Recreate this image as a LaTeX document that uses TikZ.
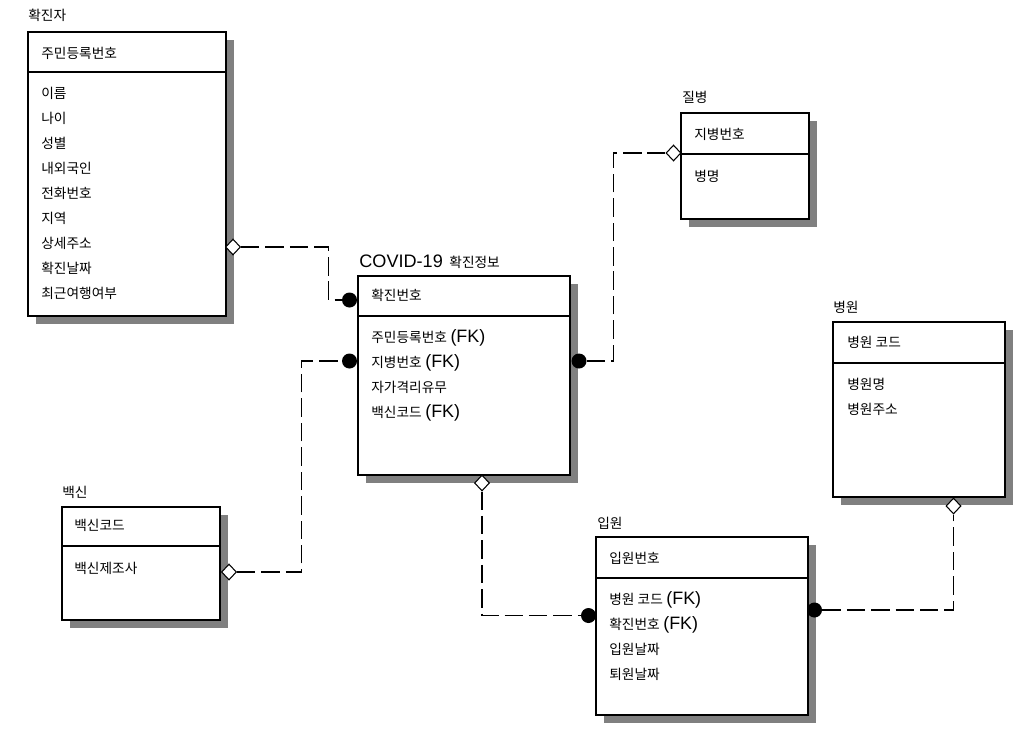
\documentclass[tikz,border=0pt]{standalone}
\usepackage{fontspec}
\newfontfamily\kofont{Noto Sans CJK KR}
\newfontfamily\arialfont{Liberation Sans}
\usepackage{tikz}
\usetikzlibrary{calc,fit,shapes.geometric}
\newcommand{\fkmark}{\hspace{2pt}{\arialfont\fontsize{10.2}{12}\selectfont(FK)}}
\tikzset{
  er diagram/.style={x=0.02cm, y=-0.02cm,
    font=\kofont\fontsize{7.8}{9}\selectfont},
  er box/.style={draw=black, fill=white, line width=0.6pt, inner sep=0pt},
  er shadow/.style={fill=black!50},
  er line/.style={draw=black, line width=0.6pt},
  er text/.style={anchor=base west, inner sep=0pt},
  er link/.style={draw=black, line width=0.6pt, dash pattern=on 10.5pt off 3.4pt},
  er dot/.style={circle, fill=black, inner sep=0pt, minimum size=0.3cm},
  er diamond/.style={diamond, draw=black, fill=white, line width=0.6pt,
    inner sep=0pt, minimum width=0.3cm, minimum height=0.32cm}
}
\begin{document}
\begin{tikzpicture}[er diagram]
\useasboundingbox (0,0) rectangle (1034,738);
% entity boxes with shadow and key divider
\foreach \name/\xa/\ya/\xb/\yb/\dv in {patient/28/32/226/316/72,
    info/358/276/570/475/316, disease/681/113/809/219/154,
    hospital/833/322/1005/497/363, admission/596/537/808/715/578,
    vaccine/62/507/220/620/546}{
  \fill[er shadow] (\xa+8,\ya+8) rectangle (\xb+8,\yb+8);
  \node[er box, fit={(\xa,\ya) (\xb,\yb)}] (\name) {};
  \draw[er line] (\xa,\dv) -- (\xb,\dv);
}
% 확진자
\node[er text] (patient title) at (28,20) {확진자};
\node[er text] (patient key) at (41,58) {주민등록번호};
\foreach \txt [count=\i] in {이름,나이,성별,내외국인,전화번호,지역,상세주소,확진날짜,최근여행여부}
  \node[er text] (patient item \i) at (41,73+25*\i) {\txt};
% COVID-19 확진정보
\node[er text] (info title) at (359,267)
  {{\arialfont\fontsize{10.3}{12}\selectfont COVID-19}\hspace{2pt} 확진정보};
\node[er text] (info key) at (371,300) {확진번호};
\foreach \txt [count=\i] in {주민등록번호\fkmark,지병번호\fkmark,자가격리유무,백신코드\fkmark}
  \node[er text] (info item \i) at (371,317+25*\i) {\txt};
% 질병
\node[er text] (disease title) at (682,102) {질병};
\node[er text] (disease key) at (694,139) {지병번호};
\node[er text] (disease item 1) at (694,181) {병명};
% 병원
\node[er text] (hospital title) at (833,312) {병원};
\node[er text] (hospital key) at (847,347) {병원 코드};
\foreach \txt [count=\i] in {병원명,병원주소}
  \node[er text] (hospital item \i) at (847,364+25*\i) {\txt};
% 입원
\node[er text] (admission title) at (597,528) {입원};
\node[er text] (admission key) at (609,563) {입원번호};
\foreach \txt [count=\i] in {병원 코드\fkmark,확진번호\fkmark,입원날짜,퇴원날짜}
  \node[er text] (admission item \i) at (609,579+25*\i) {\txt};
% 백신
\node[er text] (vaccine title) at (62,497) {백신};
\node[er text] (vaccine key) at (74,530) {백신코드};
\node[er text] (vaccine item 1) at (74,573) {백신제조사};
% relationship ends
\node[er diamond] (end patient) at (233,247) {};
\node[er diamond] (end vaccine) at (229,572) {};
\node[er diamond] (end disease) at (673.5,153) {};
\node[er diamond] (end info) at (482,483) {};
\node[er diamond] (end hospital) at (953.5,506) {};
\node[er dot] (dot info patient) at (349.5,300) {};
\node[er dot] (dot info vaccine) at (349.5,361) {};
\node[er dot] (dot info disease) at (579,361) {};
\node[er dot] (dot admission info) at (588.5,615.5) {};
\node[er dot] (dot admission hospital) at (814.5,610) {};
% relationships
\draw[er link] (end patient.east) -| ($(dot info patient.west)+(-13,0)$) -- (dot info patient.west);
\draw[er link] (end vaccine.east) -| ($(dot info vaccine.west)+(-40,0)$) -- (dot info vaccine.west);
\draw[er link] (dot info disease.east) -| ($(end disease.west)+(-52,0)$) -- (end disease.west);
\draw[er link] (end info.south) |- (dot admission info.west);
\draw[er link] (dot admission hospital.east) -| (end hospital.south);
\end{tikzpicture}
\end{document}
